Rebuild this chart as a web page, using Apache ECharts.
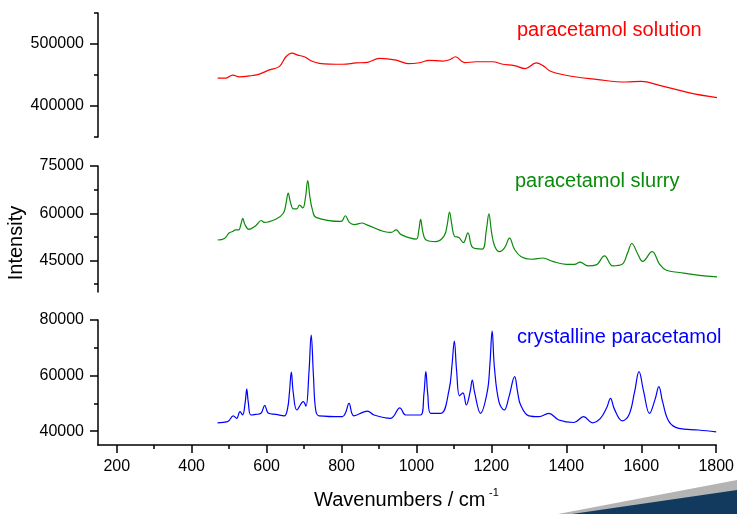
<!DOCTYPE html>
<html>
<head>
<meta charset="utf-8">
<script src="https://cdn.jsdelivr.net/npm/echarts@6/dist/echarts.min.js"></script>
<style>
html,body{margin:0;padding:0;background:#fff;}
#chart{width:737px;height:514px;}
</style>
</head>
<body>
<div id="chart"></div>
<script>
// Wavenumber axis
var xMin = 150, xMax = 1800;
var xMajorTicks = [200, 400, 600, 800, 1000, 1200, 1400, 1600, 1800];
var xMinorTicks = [300, 500, 700, 900, 1100, 1300, 1500, 1700];

// Panel ranges and ticks
var solutionRange = [350000, 550000];
var solutionMajor = [400000, 500000];
var solutionMinor = [350000, 450000, 550000];
var slurryRange = [35000, 75000];
var slurryMajor = [45000, 60000, 75000];
var slurryMinor = [37500, 52500, 67500];
var crystalRange = [35000, 80000];
var crystalMajor = [40000, 60000, 80000];
var crystalMinor = [50000, 70000];

// Spectra [wavenumber, intensity]
var solutionData = [
 [469,445000],[491,445000],[509,449800],[527,447100],[562,449200],[580,451400],[607,458300],
 [633,463500],[651,479400],[667,485200],[682,482100],[700,479400],[718,473000],[740,468900],
 [802,467300],[838,469400],[869,470500],[900,476800],[945,474100],[976,468300],[1007,469800],
 [1033,473700],[1069,472500],[1087,474600],[1103,479400],[1127,469800],[1158,471400],[1202,471400],
 [1229,467300],[1260,465100],[1289,460300],[1318,469400],[1336,465100],[1358,455600],[1416,447600],
 [1478,442900],[1558,438700],[1598,439700],[1647,433300],[1727,421300],[1800,413500]
];
var slurryData = [
 [469,51500],[487,52000],[500,53800],[509,54200],[516,54700],[525,54700],[531,56500],[536,58400],
 [541,56600],[552,54900],[571,56100],[585,57700],[593,57100],[625,58200],[644,60000],[651,63000],
 [657,66400],[663,63500],[671,61400],[680,61400],[687,62600],[696,61700],[703,65000],[709,70400],
 [715,65000],[722,60900],[731,58700],[798,57400],[809,59200],[820,57100],[833,56400],[854,56900],
 [865,56400],[931,53900],[945,54700],[958,53200],[998,51800],[1005,54500],[1010,58100],[1016,54000],
 [1025,51500],[1051,51000],[1073,52900],[1081,56500],[1087,60400],[1093,56500],[1100,52700],
 [1112,52300],[1124,50700],[1136,53800],[1149,49100],[1174,48600],[1185,54500],[1192,59800],
 [1199,54000],[1207,49700],[1220,47800],[1234,49100],[1247,52100],[1260,48600],[1278,46200],
 [1305,45400],[1336,45800],[1362,44700],[1398,43800],[1420,43800],[1435,44500],[1456,43300],
 [1478,43600],[1500,46500],[1522,43300],[1547,43800],[1562,47500],[1573,50400],[1589,47000],
 [1602,44700],[1627,47800],[1647,43800],[1665,41900],[1700,41200],[1753,40300],[1800,39800]
];
var crystalData = [
 [469,43000],[496,43400],[511,45500],[520,44600],[529,47000],[536,45800],[543,50500],[547,55100],
 [551,50500],[558,45800],[571,46000],[585,46400],[595,49300],[605,46400],[625,46000],[647,45500],
 [656,48200],[661,54000],[666,61200],[671,54000],[681,47600],[698,50600],[705,49000],[713,61000],
 [719,74600],[725,60000],[731,47600],[740,45500],[802,45200],[811,46700],[820,50000],[833,45500],
 [869,47200],[887,45800],[931,44600],[956,48400],[971,45800],[1011,45800],[1020,53500],[1025,61400],
 [1030,53500],[1038,46400],[1065,46400],[1087,54800],[1095,64000],[1101,72400],[1107,62000],
 [1115,52700],[1124,53800],[1133,49400],[1143,54000],[1149,58400],[1155,54000],[1171,46400],
 [1189,54200],[1196,64000],[1202,76000],[1208,63000],[1220,50600],[1234,47600],[1247,52400],
 [1262,59600],[1270,54000],[1278,49400],[1300,45500],[1327,45200],[1353,46400],[1380,44000],
 [1420,43100],[1446,45200],[1469,43000],[1491,44600],[1508,48500],[1518,51800],[1528,48000],
 [1549,43700],[1567,45800],[1582,54000],[1594,61400],[1606,54500],[1622,46400],[1637,51500],
 [1647,56000],[1657,50500],[1674,43400],[1700,41000],[1753,40400],[1800,39700]
];

var FONT = 'Liberation Sans, Arial, sans-serif';
var axisLineStyle = {color:'#000', width:1.5};
function plain(v){ return String(v); }

function yMajor(grid, range, ticks){
  return {gridIndex:grid, type:'value', position:'left', min:range[0], max:range[1],
    axisLine:{show:true, onZero:false, lineStyle:axisLineStyle},
    axisTick:{show:true, customValues:ticks, length:8, lineStyle:axisLineStyle},
    axisLabel:{show:true, customValues:ticks, formatter:plain, fontSize:16, color:'#000', margin:14, fontFamily:FONT},
    splitLine:{show:false}};
}
function yMinor(grid, range, ticks){
  return {gridIndex:grid, type:'value', position:'left', min:range[0], max:range[1],
    axisLine:{show:false},
    axisTick:{show:true, customValues:ticks, length:4, lineStyle:axisLineStyle},
    axisLabel:{show:false}, splitLine:{show:false}};
}

var chart = echarts.init(document.getElementById('chart'), null, {renderer:'canvas'});
chart.setOption({
  animation:false,
  backgroundColor:'#fff',
  grid:[
    {left:98, right:20, top:13, height:124},
    {left:98, right:20, top:166, height:126},
    {left:98, right:20, top:320, height:125}
  ],
  xAxis:[
    {gridIndex:0, type:'value', min:xMin, max:xMax, show:false},
    {gridIndex:1, type:'value', min:xMin, max:xMax, show:false},
    {gridIndex:2, type:'value', position:'bottom', min:xMin, max:xMax,
      axisLine:{show:true, onZero:false, lineStyle:axisLineStyle},
      axisTick:{show:true, customValues:xMajorTicks, length:8, lineStyle:axisLineStyle},
      axisLabel:{show:true, customValues:xMajorTicks, formatter:plain, fontSize:16, color:'#000', margin:14, fontFamily:FONT},
      splitLine:{show:false}},
    {gridIndex:2, type:'value', position:'bottom', min:xMin, max:xMax,
      axisLine:{show:false},
      axisTick:{show:true, customValues:xMinorTicks, length:4, lineStyle:axisLineStyle},
      axisLabel:{show:false}, splitLine:{show:false}}
  ],
  yAxis:[
    yMajor(0, solutionRange, solutionMajor), yMinor(0, solutionRange, solutionMinor),
    yMajor(1, slurryRange, slurryMajor), yMinor(1, slurryRange, slurryMinor),
    yMajor(2, crystalRange, crystalMajor), yMinor(2, crystalRange, crystalMinor)
  ],
  series:[
    {type:'line', xAxisIndex:0, yAxisIndex:0, data:solutionData, showSymbol:false, smooth:0.4,
      lineStyle:{color:'#ff0000', width:1.2}},
    {type:'line', xAxisIndex:1, yAxisIndex:2, data:slurryData, showSymbol:false, smooth:0.4,
      lineStyle:{color:'#0a8a0a', width:1.2}},
    {type:'line', xAxisIndex:2, yAxisIndex:4, data:crystalData, showSymbol:false, smooth:0.4,
      lineStyle:{color:'#0000ff', width:1.2}}
  ],
  graphic:[
    {type:'polygon', shape:{points:[[558,514],[737,480],[737,514]]}, style:{fill:'#b4b4b4'}, silent:true},
    {type:'polygon', shape:{points:[[572,514],[737,490],[737,514]]}, style:{fill:'#123a5e'}, silent:true},
    {type:'text', x:517, y:30, style:{text:'paracetamol solution', fill:'#ff0000', font:'20px '+FONT, verticalAlign:'middle'}},
    {type:'text', x:515, y:181, style:{text:'paracetamol slurry', fill:'#0a8a0a', font:'20px '+FONT, verticalAlign:'middle'}},
    {type:'text', x:517, y:337, style:{text:'crystalline paracetamol', fill:'#0000ff', font:'20px '+FONT, verticalAlign:'middle'}},
    {type:'text', x:16, y:243, rotation:Math.PI/2, style:{text:'Intensity', fill:'#000', font:'20px '+FONT, align:'center', verticalAlign:'middle'}},
    {type:'text', x:314, y:500, style:{text:'Wavenumbers / cm', fill:'#000', font:'20px '+FONT, verticalAlign:'middle'}},
    {type:'text', x:489, y:493, style:{text:'-1', fill:'#000', font:'11px '+FONT, verticalAlign:'middle'}}
  ]
});
</script>
</body>
</html>
